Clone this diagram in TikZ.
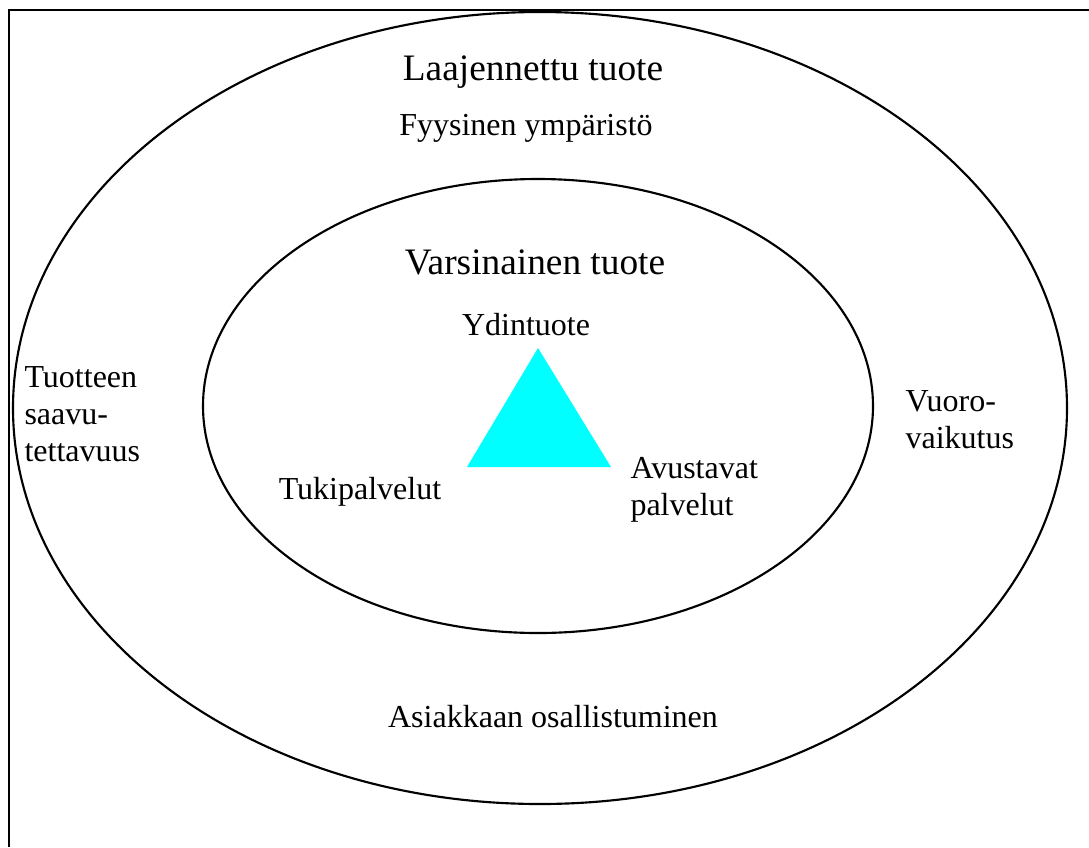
\documentclass[tikz,border=0pt]{standalone}
\usepackage{fontspec}
\setmainfont{Liberation Serif}
\definecolor{aqua}{RGB}{0,255,255}
\tikzset{
  ring/.style={draw=black, line width=0.8pt},
  lbl/.style={inner sep=0pt, font=\fontsize{12}{13.8}\selectfont},
  head/.style={inner sep=0pt, font=\fontsize{14}{16}\selectfont}
}
\begin{document}
\begin{tikzpicture}[x=0.375pt, y=-0.375pt]
  \useasboundingbox (0,0) rectangle (1089,847);
  % frame, cut at right and bottom
  \draw[line width=0.8pt] (1089,10) -- (9,10) -- (9,847);
  % the two rings
  \draw[ring] (540,408) ellipse [x radius=527, y radius=396];
  \draw[ring] (538,406) ellipse [x radius=335, y radius=227];
  % core triangle
  \fill[aqua] (538,348) -- (611,467) -- (467,467) -- cycle;
  % headings
  \node[head] (laaj) at (533,72) {Laajennettu tuote};
  \node[head] (vars) at (535,262) {Varsinainen tuote};
  % labels
  \foreach \nm/\x/\y/\txt in {
    fyys/526/128/{Fyysinen ympäristö},
    ydin/526/325/{Ydintuote},
    tuki/360/492/{Tukipalvelut},
    asia/553/717/{Asiakkaan osallistuminen}} {
      \node[lbl] (\nm) at (\x,\y) {\txt};
    }
  \node[lbl, anchor=west, align=left] (saav) at (24,414) {Tuotteen\\saavu-\\tettavuus};
  \node[lbl, anchor=west, align=left] (vuor) at (905,420) {Vuoro-\\vaikutus};
  \node[lbl, anchor=west, align=left] (avus) at (630,490) {Avustavat\\palvelut};
\end{tikzpicture}
\end{document}
